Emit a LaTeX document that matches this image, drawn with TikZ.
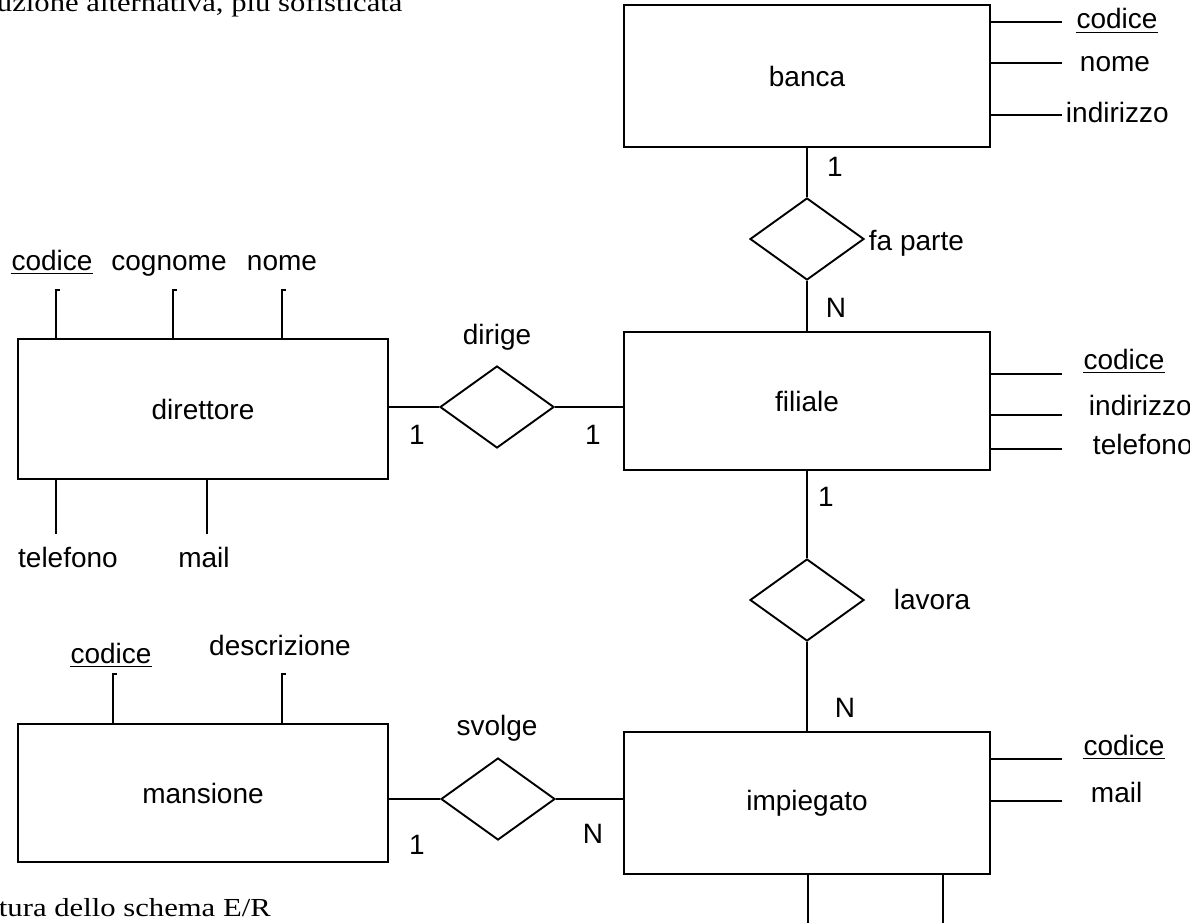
\documentclass[tikz,border=0pt]{standalone}
\usepackage{fontspec}
\setmainfont{Liberation Sans}
\newfontfamily\docserif[FakeStretch=1.18]{Liberation Serif}
\usetikzlibrary{shapes.geometric}
\begin{document}
\begin{tikzpicture}[x=1pt,y=-1pt,line width=1.9pt,
  entity/.style={draw,rectangle,inner sep=0pt,font=\fontsize{28}{33}\selectfont},
  rel/.style={draw,diamond,inner sep=0pt,minimum width=114pt,minimum height=82pt},
  lbl/.style={inner sep=0pt,font=\fontsize{28}{33}\selectfont},
  doc/.style={inner sep=0pt,font=\docserif\fontsize{26}{30}\selectfont,anchor=base west}]
\useasboundingbox (0,0) rectangle (1190,923);
% texts of the document
\node[doc] (t1) at (-4,12) {uzione alternativa, più sofisticata};
\node[doc] (t2) at (-2,916) {tura dello schema E/R};
% entities
\node[entity,minimum width=366pt,minimum height=142pt] (banca) at (807,76) {banca};
\node[entity,minimum width=366pt,minimum height=138pt] (filiale) at (807,401) {filiale};
\node[entity,minimum width=370pt,minimum height=140pt] (direttore) at (203,409) {direttore};
\node[entity,minimum width=370pt,minimum height=138pt] (mansione) at (203,793) {mansione};
\node[entity,minimum width=366pt,minimum height=142pt] (impiegato) at (807,803) {impiegato};
% relationships
\node[rel] (fa) at (807,239) {};
\node[rel] (dirige) at (497,407) {};
\node[rel] (lavora) at (807,600) {};
\node[rel] (svolge) at (498,799) {};
\draw (banca) -- (fa);
\draw (fa) -- (filiale);
\draw (filiale) -- (lavora);
\draw (lavora) -- (impiegato);
\draw (dirige.west -| direttore.east) -- (dirige.west);
\draw (dirige.east) -- (dirige.east -| filiale.west);
\draw (svolge.west -| mansione.east) -- (svolge.west);
\draw (svolge.east) -- (svolge.east -| impiegato.west);
% relationship labels
\node[lbl,anchor=base west] (lfa) at (868,250) {fa parte};
\node[lbl] (ldir) at (497,337) {dirige};
\node[lbl,anchor=base west] (llav) at (893,609) {lavora};
\node[lbl] (lsvo) at (497,728) {svolge};
% cardinalities
\node[lbl] (c1) at (835,167) {1};
\node[lbl] (c2) at (836,308) {N};
\node[lbl] (c3) at (417,435) {1};
\node[lbl] (c4) at (593,435) {1};
\node[lbl] (c5) at (826,497) {1};
\node[lbl] (c6) at (845,708) {N};
\node[lbl] (c7) at (417,845) {1};
\node[lbl] (c8) at (593,834) {N};
% banca attributes
\coordinate (ba1) at (1062,22);
\coordinate (ba2) at (1062,63);
\coordinate (ba3) at (1062,115);
\foreach \c in {ba1,ba2,ba3} \draw (\c -| banca.east) -- (\c);
\node[lbl,anchor=base] (bcod) at (1117,29) {codice};
\draw ([yshift=-3.5pt]bcod.base west) -- ([yshift=-3.5pt]bcod.base east);
\node[lbl,anchor=base] (bnom) at (1115,72) {nome};
\node[lbl,anchor=base west] (bind) at (1065,122) {indirizzo};
% filiale attributes
\coordinate (fa1) at (1062,374);
\coordinate (fa2) at (1062,415);
\coordinate (fa3) at (1062,449);
\foreach \c in {fa1,fa2,fa3} \draw (\c -| filiale.east) -- (\c);
\node[lbl,anchor=base] (fcod) at (1124,369) {codice};
\draw ([yshift=-3.5pt]fcod.base west) -- ([yshift=-3.5pt]fcod.base east);
\node[lbl,anchor=base west] (find) at (1088,415) {indirizzo};
\node[lbl,anchor=base west] (ftel) at (1092,454) {telefono};
% impiegato attributes
\coordinate (ia1) at (1062,759);
\coordinate (ia2) at (1062,801);
\foreach \c in {ia1,ia2} \draw (\c -| impiegato.east) -- (\c);
\node[lbl,anchor=base] (icod) at (1124,755) {codice};
\draw ([yshift=-3.5pt]icod.base west) -- ([yshift=-3.5pt]icod.base east);
\node[lbl,anchor=base west] (imai) at (1090,802) {mail};
\coordinate (ib1) at (808,923);
\coordinate (ib2) at (943,923);
\foreach \c in {ib1,ib2} \draw (\c |- impiegato.south) -- (\c);
% direttore attributes
\coordinate (dt1) at (56,290);
\coordinate (dt2) at (173,290);
\coordinate (dt3) at (282,290);
\foreach \c in {dt1,dt2,dt3} \draw ([xshift=4pt]\c) -- (\c) -- (\c |- direttore.north);
\node[lbl,anchor=base] (dcod) at (52,270) {codice};
\draw ([yshift=-3.5pt]dcod.base west) -- ([yshift=-3.5pt]dcod.base east);
\node[lbl,anchor=base] (dcog) at (169,270) {cognome};
\node[lbl,anchor=base] (dnom) at (282,270) {nome};
\coordinate (db1) at (56,534);
\coordinate (db2) at (207,534);
\foreach \c in {db1,db2} \draw (\c |- direttore.south) -- (\c);
\node[lbl,anchor=base] (dtel) at (68,567) {telefono};
\node[lbl,anchor=base] (dmai) at (204,567) {mail};
% mansione attributes
\coordinate (mt1) at (113,674);
\coordinate (mt2) at (282,674);
\foreach \c in {mt1,mt2} \draw ([xshift=4pt]\c) -- (\c) -- (\c |- mansione.north);
\node[lbl,anchor=base] (mcod) at (111,663) {codice};
\draw ([yshift=-3.5pt]mcod.base west) -- ([yshift=-3.5pt]mcod.base east);
\node[lbl,anchor=base] (mdes) at (280,655) {descrizione};
\end{tikzpicture}
\end{document}
